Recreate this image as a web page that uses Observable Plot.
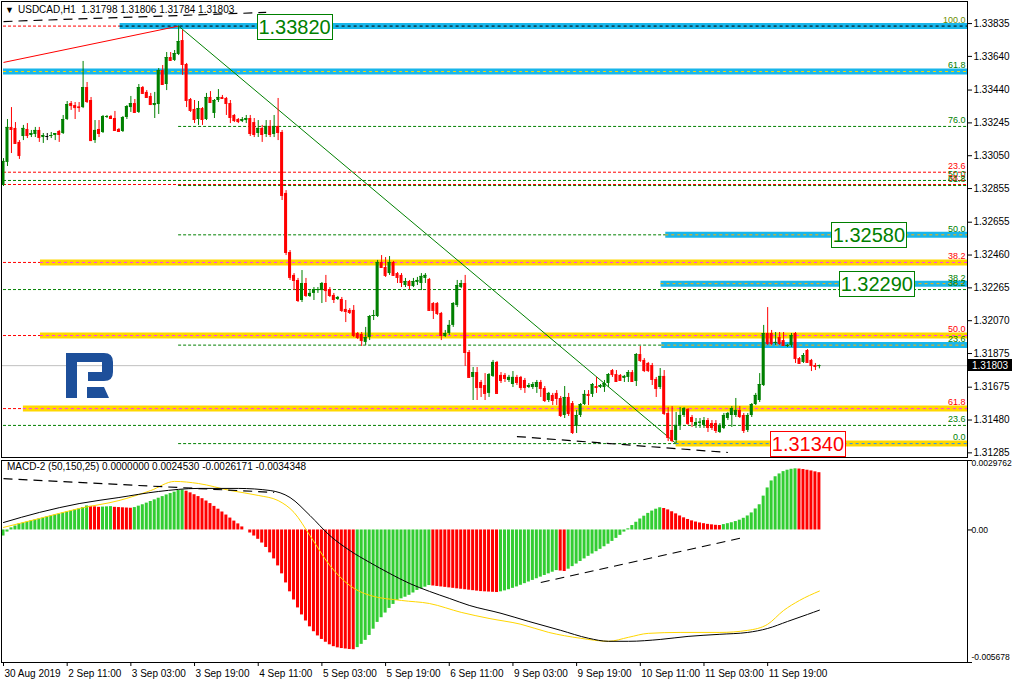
<!DOCTYPE html>
<html><head><meta charset="utf-8">
<script src="https://cdn.jsdelivr.net/npm/d3@7"></script>
<script src="https://cdn.jsdelivr.net/npm/@observablehq/plot@0.6"></script>
<style>
body{margin:0;background:#fff;}
#wrap{position:relative;width:1013px;height:684px;overflow:hidden;font-family:"Liberation Sans",Arial,sans-serif;background:#fff;}
#topPanel,#botPanel{position:absolute;left:0;}
#topPanel{top:0}
#botPanel{top:450px}
.hdr{position:absolute;font-size:10px;color:#000;white-space:pre;line-height:12px;}
</style></head><body><div id="wrap"><div id="topPanel"></div><div id="botPanel"></div>
<div class="hdr" style="left:5px;top:4px;font-size:9px">▼</div>
<div class="hdr" style="left:18px;top:4px">USDCAD,H1  1.31798 1.31806 1.31784 1.31803</div>
<div class="hdr" style="left:7px;top:461px">MACD-2 (50,150,25) 0.0000000 0.0024530 -0.0026171 -0.0034348</div>
<svg style="position:absolute;left:0;top:0" width="1013" height="684" pointer-events="none">
  <path d="M66,353 H104 Q113,353 113,362 V372 Q113,381 104,381 H88 V372 H102 V362 H77 V398 H66 Z" fill="#1d4f9a"/>
  <path d="M87,387 H104 L109,398 H87 Z" fill="#1d4f9a"/>
</svg>
</div>
<script>
// ---------- DATA ----------
const symbol = "USDCAD,H1";
// hourly candles [open, high, low, close]
const candles = [
[1.32873,1.33033,1.32867,1.33016],[1.33010,1.33265,1.32986,1.33218],[1.33218,1.33336,1.33063,1.33206],[1.33212,1.33247,1.33117,1.33123],
[1.33129,1.33140,1.33028,1.33051],[1.33164,1.33230,1.33140,1.33212],[1.33206,1.33241,1.33152,1.33170],[1.33170,1.33200,1.33158,1.33182],
[1.33176,1.33218,1.33158,1.33200],[1.33200,1.33218,1.33129,1.33158],[1.33158,1.33182,1.33123,1.33170],[1.33164,1.33182,1.33140,1.33164],
[1.33164,1.33188,1.33152,1.33170],[1.33170,1.33182,1.33140,1.33182],[1.33194,1.33200,1.33129,1.33176],[1.33182,1.33289,1.33176,1.33265],
[1.33265,1.33372,1.33259,1.33354],[1.33360,1.33372,1.33319,1.33348],[1.33348,1.33366,1.33265,1.33336],[1.33340,1.33366,1.33307,1.33336],
[1.33336,1.33610,1.33330,1.33455],[1.33455,1.33485,1.33360,1.33372],[1.33378,1.33396,1.33134,1.33140],[1.33140,1.33259,1.33123,1.33200],
[1.33206,1.33259,1.33158,1.33182],[1.33188,1.33289,1.33182,1.33283],[1.33277,1.33289,1.33271,1.33283],[1.33283,1.33289,1.33265,1.33271],
[1.33271,1.33313,1.33194,1.33200],[1.33206,1.33212,1.33188,1.33194],[1.33194,1.33283,1.33188,1.33277],[1.33277,1.33348,1.33265,1.33342],
[1.33336,1.33402,1.33307,1.33360],[1.33360,1.33384,1.33301,1.33307],[1.33307,1.33473,1.33301,1.33455],[1.33455,1.33461,1.33414,1.33420],
[1.33426,1.33437,1.33390,1.33396],[1.33402,1.33420,1.33348,1.33354],[1.33348,1.33426,1.33271,1.33360],[1.33354,1.33568,1.33295,1.33556],
[1.33556,1.33586,1.33467,1.33473],[1.33473,1.33663,1.33437,1.33633],[1.33633,1.33663,1.33610,1.33616],[1.33616,1.33675,1.33610,1.33657],
[1.33651,1.33820,1.33645,1.33728],[1.33734,1.33794,1.33527,1.33592],[1.33592,1.33598,1.33336,1.33378],[1.33384,1.33390,1.33307,1.33319],
[1.33325,1.33378,1.33241,1.33265],[1.33265,1.33372,1.33230,1.33330],[1.33330,1.33336,1.33230,1.33265],[1.33265,1.33420,1.33259,1.33396],
[1.33396,1.33431,1.33360,1.33366],[1.33301,1.33384,1.33271,1.33378],[1.33378,1.33443,1.33366,1.33396],[1.33396,1.33408,1.33384,1.33390],
[1.33390,1.33396,1.33289,1.33360],[1.33360,1.33378,1.33241,1.33277],[1.33289,1.33295,1.33247,1.33259],[1.33265,1.33271,1.33241,1.33253],
[1.33253,1.33277,1.33247,1.33265],[1.33259,1.33289,1.33241,1.33271],[1.33271,1.33289,1.33164,1.33182],[1.33247,1.33271,1.33158,1.33176],
[1.33182,1.33259,1.33158,1.33212],[1.33212,1.33230,1.33129,1.33176],[1.33176,1.33259,1.33158,1.33224],[1.33224,1.33259,1.33158,1.33176],
[1.33176,1.33289,1.33158,1.33224],[1.33224,1.33390,1.33140,1.33188],[1.33188,1.33200,1.32784,1.32814],[1.32826,1.32843,1.32457,1.32475],
[1.32475,1.32487,1.32309,1.32327],[1.32339,1.32350,1.32249,1.32309],[1.32309,1.32321,1.32178,1.32190],[1.32190,1.32368,1.32178,1.32291],
[1.32291,1.32321,1.32208,1.32220],[1.32214,1.32249,1.32208,1.32232],[1.32232,1.32267,1.32190,1.32255],[1.32249,1.32267,1.32232,1.32255],
[1.32249,1.32297,1.32172,1.32291],[1.32291,1.32339,1.32178,1.32249],[1.32255,1.32267,1.32208,1.32220],[1.32220,1.32232,1.32172,1.32196],
[1.32196,1.32214,1.32190,1.32208],[1.32196,1.32208,1.32119,1.32131],[1.32137,1.32190,1.32059,1.32125],[1.32131,1.32142,1.32107,1.32119],
[1.32131,1.32160,1.31970,1.31982],[1.31994,1.32000,1.31958,1.31970],[1.31988,1.32000,1.31917,1.31952],[1.31941,1.32030,1.31923,1.31970],
[1.31970,1.32101,1.31952,1.32095],[1.32095,1.32131,1.32071,1.32101],[1.32095,1.32428,1.32089,1.32416],[1.32416,1.32457,1.32380,1.32386],
[1.32386,1.32445,1.32327,1.32339],[1.32350,1.32451,1.32339,1.32416],[1.32416,1.32422,1.32333,1.32339],[1.32350,1.32356,1.32291,1.32327],
[1.32339,1.32350,1.32267,1.32297],[1.32279,1.32321,1.32267,1.32303],[1.32303,1.32309,1.32255,1.32279],[1.32273,1.32321,1.32267,1.32303],
[1.32297,1.32327,1.32279,1.32309],[1.32291,1.32350,1.32249,1.32333],[1.32321,1.32350,1.32291,1.32339],[1.32315,1.32321,1.32125,1.32131],
[1.32172,1.32178,1.32077,1.32131],[1.32172,1.32178,1.32101,1.32113],[1.32113,1.32119,1.31952,1.31982],[1.31976,1.32012,1.31970,1.31994],
[1.31994,1.32071,1.31982,1.32042],[1.32042,1.32178,1.32030,1.32172],[1.32160,1.32309,1.32148,1.32279],[1.32267,1.32309,1.32261,1.32291],
[1.32291,1.32339,1.31798,1.31881],[1.31881,1.31893,1.31727,1.31733],[1.31733,1.31792,1.31596,1.31762],[1.31762,1.31792,1.31596,1.31673],
[1.31703,1.31715,1.31614,1.31673],[1.31685,1.31756,1.31596,1.31638],[1.31638,1.31756,1.31614,1.31750],[1.31739,1.31834,1.31733,1.31822],
[1.31822,1.31828,1.31632,1.31638],[1.31745,1.31762,1.31697,1.31715],[1.31745,1.31756,1.31703,1.31727],[1.31715,1.31745,1.31703,1.31733],
[1.31691,1.31768,1.31673,1.31733],[1.31733,1.31745,1.31685,1.31703],[1.31733,1.31739,1.31655,1.31673],[1.31715,1.31727,1.31638,1.31673],
[1.31673,1.31697,1.31667,1.31685],[1.31673,1.31703,1.31661,1.31691],[1.31673,1.31715,1.31638,1.31703],[1.31703,1.31715,1.31614,1.31667],
[1.31667,1.31679,1.31584,1.31596],[1.31596,1.31644,1.31584,1.31638],[1.31626,1.31638,1.31566,1.31596],[1.31638,1.31655,1.31566,1.31608],
[1.31608,1.31620,1.31495,1.31507],[1.31507,1.31679,1.31489,1.31614],[1.31614,1.31638,1.31501,1.31519],[1.31578,1.31590,1.31394,1.31406],
[1.31442,1.31537,1.31400,1.31507],[1.31507,1.31578,1.31495,1.31572],[1.31572,1.31655,1.31566,1.31632],[1.31632,1.31655,1.31566,1.31626],
[1.31632,1.31697,1.31614,1.31691],[1.31679,1.31733,1.31638,1.31673],[1.31673,1.31691,1.31667,1.31685],[1.31673,1.31715,1.31644,1.31697],
[1.31697,1.31756,1.31673,1.31750],[1.31774,1.31780,1.31733,1.31750],[1.31750,1.31774,1.31703,1.31709],[1.31745,1.31750,1.31709,1.31715],
[1.31727,1.31745,1.31703,1.31739],[1.31733,1.31774,1.31703,1.31762],[1.31762,1.31774,1.31703,1.31709],[1.31709,1.31875,1.31679,1.31869],
[1.31869,1.31917,1.31822,1.31834],[1.31834,1.31845,1.31762,1.31774],[1.31816,1.31822,1.31762,1.31774],[1.31804,1.31816,1.31685,1.31721],
[1.31721,1.31733,1.31614,1.31667],[1.31673,1.31786,1.31661,1.31739],[1.31739,1.31774,1.31507,1.31519],[1.31519,1.31554,1.31352,1.31376],
[1.31418,1.31560,1.31346,1.31358],[1.31358,1.31525,1.31340,1.31448],[1.31448,1.31554,1.31418,1.31507],[1.31507,1.31554,1.31495,1.31548],
[1.31543,1.31548,1.31448,1.31459],[1.31495,1.31507,1.31436,1.31471],[1.31448,1.31489,1.31430,1.31465],[1.31462,1.31489,1.31430,1.31467],
[1.31448,1.31495,1.31430,1.31477],[1.31477,1.31489,1.31406,1.31436],[1.31459,1.31477,1.31418,1.31436],[1.31459,1.31477,1.31400,1.31418],
[1.31406,1.31459,1.31400,1.31448],[1.31430,1.31519,1.31424,1.31507],[1.31489,1.31525,1.31477,1.31519],[1.31507,1.31560,1.31436,1.31548],
[1.31507,1.31608,1.31495,1.31537],[1.31537,1.31560,1.31489,1.31501],[1.31507,1.31519,1.31400,1.31418],[1.31418,1.31519,1.31406,1.31507],
[1.31507,1.31578,1.31495,1.31572],[1.31572,1.31638,1.31566,1.31626],[1.31596,1.31756,1.31584,1.31691],[1.31685,1.32042,1.31679,1.31994],
[1.31994,1.32148,1.31923,1.31935],[1.31994,1.32012,1.31923,1.31935],[1.31935,1.32000,1.31923,1.31941],[1.31970,1.32000,1.31923,1.31935],
[1.31952,1.32000,1.31917,1.31923],[1.31917,1.31929,1.31911,1.31923],[1.31923,1.31994,1.31911,1.31982],[1.31994,1.32000,1.31816,1.31845],
[1.31845,1.31851,1.31810,1.31816],[1.31822,1.31875,1.31816,1.31863],[1.31893,1.31899,1.31816,1.31822],[1.31834,1.31840,1.31768,1.31804],
[1.31804,1.31816,1.31774,1.31798],[1.31798,1.31806,1.31784,1.31803]
];
const lastPrice = 1.31803;
const priceTicks = [1.33835,1.33640,1.33440,1.33245,1.33050,1.32855,1.32655,1.32460,1.32265,1.32070,1.31875,1.31675,1.31480,1.31285];
const timeIdx = [0,16,32,48,64,80,96,112,128,144,160,176,192];
const timeLabels = ["30 Aug 2019","2 Sep 11:00","3 Sep 03:00","3 Sep 19:00","4 Sep 11:00","5 Sep 03:00","5 Sep 19:00","6 Sep 11:00","9 Sep 03:00","9 Sep 19:00","10 Sep 11:00","11 Sep 03:00","11 Sep 19:00"];

// Fibonacci levels: dashed level lines [price, kind, start bar]
const fibLinePrice = [1.33820,1.33224,1.32952,1.32903,1.32879,1.32873,1.32580,1.32416,1.32255,1.31982,1.31925,1.31548,1.31448,1.31340];
const fibLineKind  = ["red","green","red","green","red","green","green","red","green","red","green","red","green","green"];
const fibLineStart = [0,44,0,0,0,44,44,0,0,0,44,0,0,44];
// highlighted support / resistance bands [price, kind, start bar]
const bandPrice = [1.33820,1.33550,1.32580,1.32290,1.31925,1.32416,1.31982,1.31548,1.31340];
const bandKind  = ["blue","blue","blue","blue","blue","gold","gold","gold","gold"];
const bandStart = [29.3,0,166.4,165.2,165.4,9.3,9.3,5,169];
// level captions on the right
const fibText  = ["100.0","61.8","76.0","23.6","50.0","38.2","61.8","50.0","38.2","38.2","38.2","50.0","23.6","61.8","23.6","0.0"];
const fibTextP = [1.33820,1.33550,1.33224,1.32952,1.32903,1.32879,1.32873,1.32580,1.32416,1.32290,1.32255,1.31982,1.31925,1.31548,1.31448,1.31340];
const fibTextK = ["olive","green","green","red","green","red","green","green","red","green","green","red","green","red","green","green"];
// price boxes
const boxText  = ["1.33820","1.32580","1.32290","1.31340"];
const boxPrice = [1.33820,1.32580,1.32290,1.31340];
const boxKind  = ["green","green","green","red"];
// trend lines [bar1, price1, bar2, price2]
const trendLines = [[0,1.33604,44,1.33820],[44,1.33820,169,1.31340]];
const trendKind  = ["red","green"];
const divLines   = [[0,1.33847,66,1.33901],[129,1.31382,182,1.31287]];

// MACD (values in units of 1e-4)
const macdHist = [
-2.6,-0.9,0.9,1.7,2.6,3.0,3.4,3.9,4.3,4.7,5.1,5.6,6.0,6.4,6.8,7.3,7.7,8.1,8.6,9.0,9.6,10.3,
10.1,9.9,9.7,9.8,9.9,10.0,9.7,9.6,9.5,9.4,9.3,
9.6,10.2,10.8,11.5,12.2,12.9,13.6,14.3,15.0,15.6,16.2,16.9,17.1,
16.6,15.9,15.1,14.3,13.4,12.4,11.3,10.1,8.9,7.7,6.4,5.1,3.8,2.6,1.3,0.0,-1.3,-2.6,-4.0,-5.6,-7.5,-9.8,-12.4,-15.4,-18.8,-22.7,-26.5,-30.0,-33.4,-36.4,-39.0,-41.5,-43.6,-45.4,-46.9,-48.1,-49.2,-50.0,-50.5,-50.8,-51.0,
-51.2,-51.3,
-50.4,-49.0,-47.3,-45.2,-42.5,-39.6,-37.6,-35.6,-33.6,-31.9,-30.2,-29.5,-28.8,-28.0,-27.0,-25.9,-25.2,-24.5,-23.8,
-24.0,-24.2,-24.4,-24.6,-24.8,-25.0,-25.2,-25.4,-25.6,-25.8,-26.0,-26.2,-26.4,-26.5,-26.6,-26.7,-26.8,
-26.5,-26.1,-25.6,-25.0,-24.4,-23.7,-23.0,-22.3,-21.6,-20.9,-20.2,-19.5,-18.8,-18.1,-17.4,-17.6,-17.8,-16.8,-15.7,-14.6,-13.5,-12.4,-11.3,-10.3,-9.3,-8.3,-7.2,-6.1,-4.9,-3.6,-2.3,
-0.9,0.5,1.9,3.3,4.7,5.9,7.1,8.1,8.9,9.5,
9.2,8.6,7.8,6.9,6.0,5.2,4.5,3.9,3.4,3.0,2.7,2.4,2.2,2.0,1.9,
2.3,2.7,3.1,3.6,4.2,5.0,6.0,7.3,9.0,10.8,14.5,18.0,21.0,22.8,24.0,25.0,25.6,26.0,26.2,
26.1,25.9,25.6,25.3,24.9,24.53
];
const blackIdx = [0,9,19,29,39,49,59,67,72,77,82,87,92,97,102,107,112,117,125,132,140,147,152,157,165,172,180,187,192,197,202,205];
const blackVal = [3.2,7.5,11.3,13.9,16.5,17.8,17.8,16.9,13.9,6.2,-2.4,-8.8,-13.9,-18.6,-22.9,-26.3,-29.3,-32.3,-35.7,-39.2,-43.0,-46.4,-47.7,-47.7,-46.9,-45.6,-44.7,-43.9,-42.2,-39.2,-36.2,-34.348];
const yellowIdx = [0,9,19,29,37,43,49,57,64,69,73,77,82,87,92,100,107,115,122,130,137,145,152,157,162,170,180,187,192,196,200,205];
const yellowVal = [1.1,4.9,9.2,12.6,16.9,20.8,19.9,16.9,14.8,12.6,7.5,-2.4,-15.2,-23.8,-28.0,-30.2,-31.5,-35.3,-37.9,-40.4,-43.9,-46.4,-47.7,-46.0,-44.3,-43.9,-43.9,-43.0,-40.4,-34.5,-30.2,-26.171];
const macdDiv = [[0,22.0,68,16.1],[135,-22.5,186,-3.2]];
const macdTicks = [0.0029762, 0, -0.005678];
const macdTickText = ["0.0029762","0.00","-0.005678"];

// ---------- STYLES ----------
const COL = {red:"#ff0000", green:"#008000", olive:"#6b8e00", blue:"#19b6ea", gold:"#ffd700"};
const BANDDASH = ["#000000","#ffd700","#ffb000","#ffb000","#ffb000","#ff33ff","#ff33ff","#ff33ff","#1e90ff"];
const PX = 3.98;                       // px per bar
const xDomain = [-2/PX, 964/PX];       // bar 0 at x=3
const pAt = y => 1.33972 - 0.0000594*y; // price axis calibration
const font = {fontFamily:"'Liberation Sans', Arial, sans-serif", fontSize:"10px", color:"#000", background:"transparent", overflow:"visible"};

const bars = candles.map(([o,h,l,c],i)=>({i,o,h,l,c,col: c>o?COL.green:(c<o?COL.red:"#000")}));
const fibLines = fibLinePrice.map((p,k)=>({p, c:COL[fibLineKind[k]], s:fibLineStart[k]}));
const bands = bandPrice.map((p,k)=>({p, c:COL[bandKind[k]], s:bandStart[k], d:BANDDASH[k]}));
const fibLabels = fibTextP.map((p,k)=>({p, t:fibText[k], c:COL[fibTextK[k]]}));
const trends = trendLines.map((t,k)=>({i1:t[0],p1:t[1],i2:t[2],p2:t[3],c:COL[trendKind[k]]}));
const divs = divLines.map(t=>({i1:t[0],p1:t[1],i2:t[2],p2:t[3]}));

const priceChart = Plot.plot({
  width:1013, height:458,
  marginLeft:1, marginRight:46, marginTop:1, marginBottom:1,
  style:font,
  x:{type:"linear", domain:xDomain, axis:null},
  y:{type:"linear", domain:[pAt(457), pAt(1)], axis:null},
  marks:[
    Plot.ruleY(fibLines,{y:"p", x1:"s", x2:()=>xDomain[1], stroke:"c", strokeDasharray:"3,2", strokeWidth:1}),
    Plot.ruleY(bands,{y:"p", x1:"s", x2:()=>xDomain[1], stroke:"c", strokeWidth:6}),
    Plot.ruleY(bands,{y:"p", x1:"s", x2:()=>xDomain[1], stroke:"d", strokeDasharray:"3,3", strokeWidth:1}),
    Plot.ruleY([lastPrice],{stroke:"#c0c0c0"}),
    Plot.link(trends,{x1:"i1",y1:"p1",x2:"i2",y2:"p2",stroke:"c",strokeWidth:1}),
    Plot.link(divs,{x1:"i1",y1:"p1",x2:"i2",y2:"p2",stroke:"#000",strokeWidth:1.2,strokeDasharray:"9,6"}),
    Plot.ruleX(bars,{x:"i", y1:"l", y2:"h", stroke:"col"}),
    Plot.rect(bars,{x1:d=>d.i-0.38, x2:d=>d.i+0.38, y1:"o", y2:"c", fill:"col"}),
    Plot.ruleY(bars,{y:"c", x1:d=>d.i-0.38, x2:d=>d.i+0.38, stroke:"col"}),
    Plot.text(fibLabels,{x:()=>xDomain[1], y:"p", text:"t", fill:"c", textAnchor:"end", dx:-2, dy:-6, fontSize:9}),
    Plot.axisY(priceTicks,{anchor:"right", tickSize:4, tickPadding:2, tickFormat:d=>d.toFixed(5), fontSize:10}),
    Plot.frame({stroke:"#000"})
  ]
});
document.getElementById("topPanel").appendChild(priceChart);

// boxes and current-price tag, positioned through the plot's scales
{
  const sx = priceChart.scale("x"), sy = priceChart.scale("y");
  const svg = d3.select(priceChart);
  const boxBar = [73, 217.3, 219.3, 202];
  boxText.forEach((t,k)=>{
    const cx = sx.apply(boxBar[k]), cy = sy.apply(boxPrice[k]);
    const c = COL[boxKind[k]];
    const g = svg.append("g");
    g.append("rect").attr("x",Math.round(cx-37)+0.5).attr("y",Math.round(cy-12)+0.5).attr("width",75).attr("height",25)
      .attr("fill","#fff").attr("stroke",c);
    g.append("text").attr("x",cx+1).attr("y",cy+1).attr("text-anchor","middle").attr("dominant-baseline","central")
      .attr("fill",c).attr("font-size",20).attr("font-family","'Liberation Sans', Arial, sans-serif").text(t);
  });
  const cy = sy.apply(lastPrice);
  svg.append("rect").attr("x",968).attr("y",Math.round(cy)-6).attr("width",44).attr("height",12).attr("fill","#000");
  svg.append("text").attr("x",972).attr("y",Math.round(cy)).attr("text-anchor","start").attr("dominant-baseline","central").attr("fill","#fff")
    .attr("font-size",10).attr("font-family","'Liberation Sans', Arial, sans-serif").text(lastPrice.toFixed(5));
}

// ---------- MACD ----------
const hist = macdHist.map((v,i)=>({i, v:v*1e-4, up: i===0 ? true : v > macdHist[i-1]}));
const blackPts = blackIdx.map((i,k)=>({i, v:blackVal[k]*1e-4}));
const yellowPts = yellowIdx.map((i,k)=>({i, v:yellowVal[k]*1e-4}));
const mdivs = macdDiv.map(t=>({i1:t[0],v1:t[1]*1e-4,i2:t[2],v2:t[3]*1e-4}));
const macdTickRows = macdTicks.map((v,k)=>({v, t:macdTickText[k]}));
const timeRows = timeIdx.map((i,k)=>({i, t:timeLabels[k]}));

const macdChart = Plot.plot({
  width:1013, height:234,
  marginLeft:1, marginRight:46, marginTop:10, marginBottom:22,
  style:font,
  x:{type:"linear", domain:xDomain, axis:null},
  y:{type:"linear", domain:[-0.005678, 0.0029762], axis:null},
  marks:[
    Plot.rect(hist,{x1:d=>d.i-0.38, x2:d=>d.i+0.38, y1:0, y2:"v", fill:d=>d.up?"#32cd32":"#ff0000"}),
    Plot.line(yellowPts,{x:"i", y:"v", stroke:"#ffd700", strokeWidth:1, curve:"monotone-x"}),
    Plot.line(blackPts,{x:"i", y:"v", stroke:"#000", strokeWidth:1, curve:"monotone-x"}),
    Plot.link(mdivs,{x1:"i1",y1:"v1",x2:"i2",y2:"v2",stroke:"#000",strokeWidth:1.2,strokeDasharray:"9,6"}),
    Plot.axisY(macdTicks,{anchor:"right", tickSize:4, tickFormat:()=>""}),
    Plot.text([macdTickRows[0]],{x:()=>xDomain[1], y:"v", text:"t", textAnchor:"start", dx:4, dy:3, fill:"#000", fontSize:8.5}),
    Plot.text([macdTickRows[1]],{x:()=>xDomain[1], y:"v", text:"t", textAnchor:"start", dx:4, dy:0, fill:"#000", fontSize:8.5}),
    Plot.text([macdTickRows[2]],{x:()=>xDomain[1], y:"v", text:"t", textAnchor:"start", dx:4, dy:-5, fill:"#000", fontSize:8.5}),
    Plot.axisX(timeIdx,{anchor:"bottom", tickSize:4, tickFormat:()=>""}),
    Plot.text(timeRows,{x:"i", frameAnchor:"bottom", text:"t", textAnchor:"start", dx:1, dy:14, fill:"#000", fontSize:10}),
    Plot.frame({stroke:"#000"})
  ]
});
document.getElementById("botPanel").appendChild(macdChart);
</script>
</body></html>
